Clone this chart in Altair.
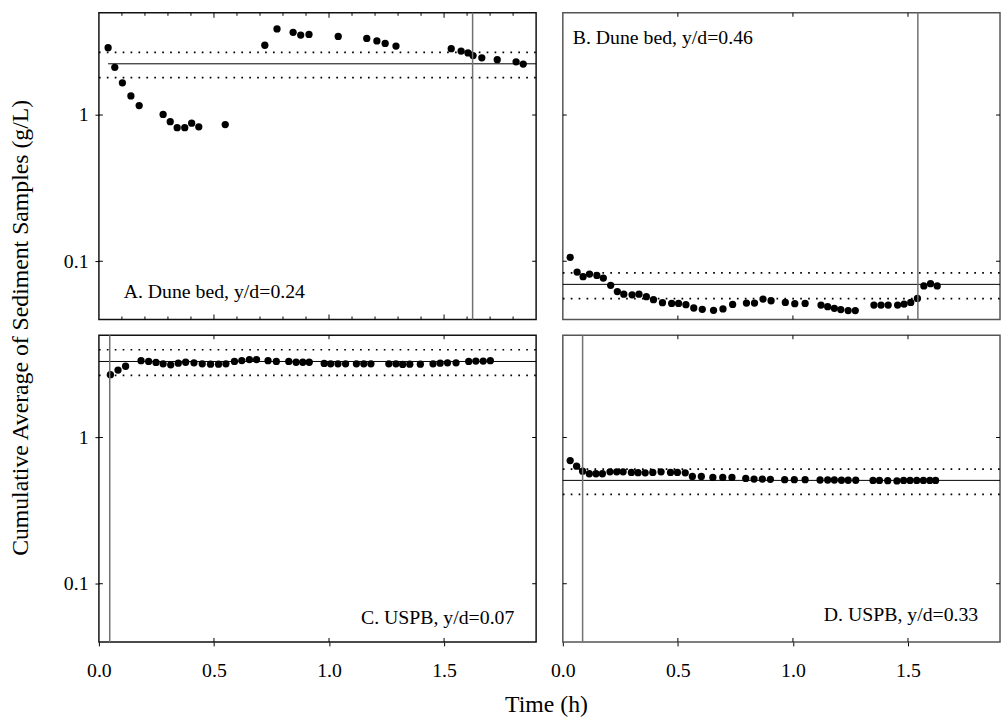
import altair as alt
import pandas as pd

FONT = "Liberation Serif"
W, H = 442, 310
XDOM = [0, 1.9]
YDOM = [0.04, 5]

# ---- data ----
A_t = [0.040, 0.069, 0.102, 0.139, 0.175, 0.279, 0.310, 0.340, 0.373, 0.403, 0.434, 0.549,
       0.721, 0.774, 0.844, 0.877, 0.913, 1.040, 1.164, 1.208, 1.244, 1.291, 1.531, 1.574,
       1.604, 1.626, 1.664, 1.731, 1.813, 1.844]
A_c = [2.89, 2.12, 1.66, 1.35, 1.16, 1.01, 0.90, 0.82, 0.82, 0.88, 0.83, 0.86,
       3.00, 3.88, 3.68, 3.52, 3.56, 3.45, 3.34, 3.21, 3.09, 2.96, 2.84, 2.74,
       2.66, 2.55, 2.46, 2.39, 2.31, 2.23]

B_t = [0.032, 0.062, 0.088, 0.116, 0.148, 0.176, 0.208, 0.237, 0.265, 0.301, 0.331, 0.363,
       0.394, 0.433, 0.473, 0.503, 0.535, 0.569, 0.606, 0.655, 0.696, 0.738, 0.798, 0.833,
       0.870, 0.905, 0.967, 1.008, 1.053, 1.122, 1.151, 1.180, 1.208, 1.240, 1.271, 1.352,
       1.383, 1.414, 1.455, 1.483, 1.512, 1.541, 1.569, 1.598, 1.627]
B_c = [0.1064, 0.0843, 0.0784, 0.0817, 0.0800, 0.0768, 0.0685, 0.0621, 0.0596, 0.0590, 0.0596, 0.0572,
       0.0546, 0.0521, 0.0515, 0.0515, 0.0505, 0.0479, 0.0469, 0.0462, 0.0472, 0.0507, 0.0518, 0.0518,
       0.0551, 0.0537, 0.0523, 0.0513, 0.0515, 0.0502, 0.0489, 0.0477, 0.0467, 0.0460, 0.0460, 0.0502,
       0.0502, 0.0502, 0.0502, 0.0510, 0.0523, 0.0557, 0.0678, 0.0703, 0.0678]

C_t = [0.050, 0.083, 0.116, 0.183, 0.216, 0.248, 0.279, 0.312, 0.345, 0.377, 0.413, 0.449,
       0.485, 0.520, 0.552, 0.589, 0.621, 0.654, 0.685, 0.735, 0.771, 0.825, 0.857, 0.886,
       0.914, 0.979, 1.007, 1.039, 1.072, 1.119, 1.151, 1.182, 1.260, 1.291, 1.320, 1.351,
       1.397, 1.452, 1.483, 1.515, 1.552, 1.607, 1.638, 1.670, 1.701]
C_c = [2.69, 2.89, 3.07, 3.35, 3.31, 3.26, 3.19, 3.14, 3.22, 3.27, 3.24, 3.19,
       3.17, 3.17, 3.19, 3.31, 3.36, 3.41, 3.41, 3.35, 3.31, 3.31, 3.27, 3.27,
       3.27, 3.21, 3.19, 3.19, 3.19, 3.19, 3.19, 3.19, 3.19, 3.19, 3.16, 3.17,
       3.17, 3.19, 3.22, 3.24, 3.24, 3.31, 3.33, 3.33, 3.35]

D_t = [0.032, 0.060, 0.086, 0.115, 0.144, 0.172, 0.205, 0.234, 0.262, 0.298, 0.327, 0.358,
       0.391, 0.427, 0.468, 0.498, 0.532, 0.563, 0.602, 0.652, 0.695, 0.735, 0.795, 0.831,
       0.867, 0.902, 0.964, 1.006, 1.053, 1.118, 1.151, 1.180, 1.211, 1.240, 1.273, 1.348,
       1.376, 1.412, 1.452, 1.481, 1.509, 1.538, 1.567, 1.595, 1.620]
D_c = [0.695, 0.636, 0.588, 0.565, 0.565, 0.565, 0.582, 0.582, 0.582, 0.577, 0.575, 0.573,
       0.577, 0.582, 0.577, 0.577, 0.573, 0.542, 0.542, 0.533, 0.533, 0.533, 0.525, 0.520,
       0.520, 0.518, 0.515, 0.515, 0.515, 0.512, 0.512, 0.512, 0.510, 0.510, 0.510, 0.509,
       0.509, 0.507, 0.505, 0.509, 0.509, 0.509, 0.509, 0.509, 0.509]

# mean (solid) and +/-20 % (dotted) reference levels, start of the solid line
MEAN = {"A": 2.24, "B": 0.0695, "C": 3.31, "D": 0.509}
UPPER = {"A": 2.68, "B": 0.0834, "C": 3.98, "D": 0.608}
LOWER = {"A": 1.80, "B": 0.0556, "C": 2.66, "D": 0.408}
MEAN_START = {"A": 0.04, "B": 0.0, "C": 0.0, "D": 0.0}
VLINE = {"A": 1.624, "B": 1.543, "C": 0.047, "D": 0.086}
LABELS = {"A": "A. Dune bed, y/d=0.24", "B": "B. Dune bed, y/d=0.46",
          "C": "C. USPB, y/d=0.07", "D": "D. USPB, y/d=0.33"}

MAJOR_X = [0.0, 0.5, 1.0, 1.5]
MINOR_X = [0.1, 0.2, 0.3, 0.4, 0.6, 0.7, 0.8, 0.9, 1.1, 1.2, 1.3, 1.4, 1.6, 1.7, 1.8]
Y_TICKS = [0.1, 1.0]

xs = alt.Scale(domain=XDOM, nice=False, zero=False)
ys = alt.Scale(type="log", domain=YDOM, nice=False)


def make_axes(key):
    base_x = dict(values=MAJOR_X, format=".1f", labelFont=FONT, labelFontSize=20,
                  labelColor="black", tickSize=4, tickColor="black", domain=False,
                  grid=False, labelPadding=15, labelFlush=False)
    base_y = dict(values=Y_TICKS, format="~g", labelFont=FONT, labelFontSize=20,
                  labelColor="black", tickSize=4, tickColor="black", domain=False,
                  grid=False, labelPadding=7)
    if key == "C":
        xa = alt.Axis(title="Time (h)", titleFont=FONT, titleFontSize=24,
                      titleFontWeight="normal", titleColor="black",
                      titleX=452, titleY=63, titleBaseline="middle", **base_x)
    elif key == "D":
        xa = alt.Axis(title=None, **base_x)
    else:
        xa = None
    if key == "A":
        ya = alt.Axis(title="Cumulative Average of Sediment Samples (g/L)", titleFont=FONT,
                      titleFontSize=24, titleFontWeight="normal", titleColor="black",
                      titleX=-79, titleY=318, titleBaseline="middle", titleAlign="center",
                      **base_y)
    elif key == "C":
        ya = alt.Axis(title=None, **base_y)
    else:
        ya = None
    return xa, ya


def panel(key, t, c, text_x, text_y, align, stroke):
    xa, ya = make_axes(key)

    def X(field):
        return alt.X(field, type="quantitative", scale=xs, axis=xa)

    def Y(field):
        return alt.Y(field, type="quantitative", scale=ys, axis=ya)

    pts = pd.DataFrame({"t": t, "c": c})
    mean_df = pd.DataFrame({"t": [MEAN_START[key]], "t2": [XDOM[1]], "c": [MEAN[key]]})
    band_df = pd.DataFrame({"t": [XDOM[0], XDOM[0]], "t2": [XDOM[1], XDOM[1]],
                            "c": [UPPER[key], LOWER[key]]})
    vline_df = pd.DataFrame({"t": [VLINE[key]]})
    label_df = pd.DataFrame({"label": [LABELS[key]]})

    layers = []
    # points
    layers.append(alt.Chart(pts).mark_circle(size=54, color="black", opacity=1).encode(
        x=X("t"), y=Y("c")))
    # dotted +/-20% lines
    layers.append(alt.Chart(band_df).mark_rule(color="black", strokeWidth=1.7,
                                               strokeDash=[1.7, 6.3]).encode(
        x=X("t"), x2="t2", y=Y("c")))
    # mean line
    layers.append(alt.Chart(mean_df).mark_rule(color="black", strokeWidth=1).encode(
        x=X("t"), x2="t2", y=Y("c")))
    # vertical marker line
    layers.append(alt.Chart(vline_df).mark_rule(color="#707070", strokeWidth=1.5).encode(
        x=X("t"), y=alt.value(0), y2=alt.value(H)))

    # inward x ticks
    if key == "A":
        maj = pd.DataFrame({"t": MAJOR_X[1:]})
        mnr = pd.DataFrame({"t": MINOR_X})
        for df, ln in ((maj, 5), (mnr, 3)):
            layers.append(alt.Chart(df).mark_rule(color="black", strokeWidth=1).encode(
                x=X("t"), y=alt.value(0), y2=alt.value(ln)))
            layers.append(alt.Chart(df).mark_rule(color="black", strokeWidth=1).encode(
                x=X("t"), y=alt.value(H), y2=alt.value(H - ln)))
    else:
        maj = pd.DataFrame({"t": MAJOR_X[1:]})
        layers.append(alt.Chart(maj).mark_rule(color="black", strokeWidth=1).encode(
            x=X("t"), y=alt.value(0), y2=alt.value(4)))
        layers.append(alt.Chart(maj).mark_rule(color="black", strokeWidth=1).encode(
            x=X("t"), y=alt.value(H), y2=alt.value(H - 4)))
    # inward y ticks
    yt = pd.DataFrame({"c": Y_TICKS})
    layers.append(alt.Chart(yt).mark_rule(color="black", strokeWidth=1).encode(
        y=Y("c"), x=alt.value(0), x2=alt.value(4)))
    layers.append(alt.Chart(yt).mark_rule(color="black", strokeWidth=1).encode(
        y=Y("c"), x=alt.value(W), x2=alt.value(W - 4)))

    # panel label
    layers.append(alt.Chart(label_df).mark_text(font=FONT, fontSize=20, color="black",
                                                align=align, baseline="alphabetic").encode(
        x=alt.value(text_x), y=alt.value(text_y), text="label:N"))

    return alt.layer(*layers).properties(
        width=W, height=H,
        view=alt.ViewBackground(stroke=stroke, strokeWidth=1.5))


pA = panel("A", A_t, A_c, 25, 288, "left", "#111111")
pB = panel("B", B_t, B_c, 10, 32, "left", "#555555")
pC = panel("C", C_t, C_c, 420, 292, "right", "#111111")
pD = panel("D", D_t, D_c, 420, 289, "right", "#555555")

chart = alt.concat(pA, pB, pC, pD, columns=2, spacing={"row": 16, "column": 27},
                   bounds="flush").properties(
    padding={"left": 8, "top": 7, "right": 0, "bottom": 0},
    background="white",
).configure_view(fill="white")

chart.save("out.html", embed_options={"renderer": "svg", "actions": False})
